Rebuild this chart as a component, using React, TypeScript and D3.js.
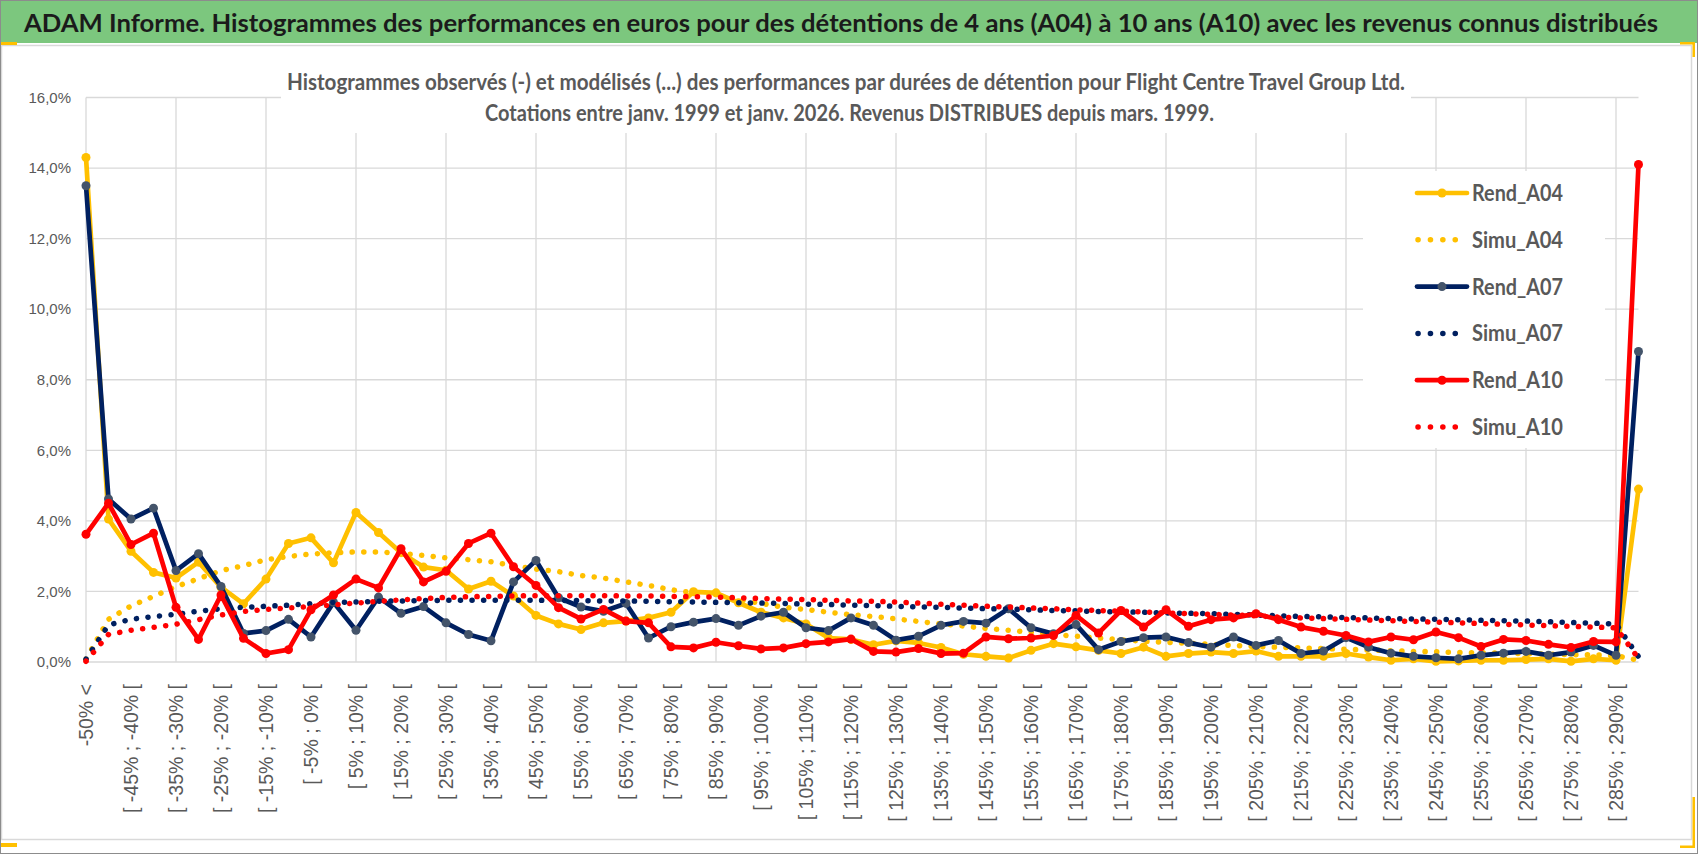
import { useEffect, useRef } from "react";
import * as d3 from "d3";

const W = 1698;
const H = 854;

// categories (every other one is labelled on the axis)
const categories = [
  "-50% <",
  "[ -50% ; -45% [", "[ -45% ; -40% [", "[ -40% ; -35% [", "[ -35% ; -30% [",
  "[ -30% ; -25% [", "[ -25% ; -20% [", "[ -20% ; -15% [", "[ -15% ; -10% [",
  "[ -10% ; -5% [", "[ -5% ; 0% [", "[ 0% ; 5% [", "[ 5% ; 10% [",
  "[ 10% ; 15% [", "[ 15% ; 20% [", "[ 20% ; 25% [", "[ 25% ; 30% [",
  "[ 30% ; 35% [", "[ 35% ; 40% [", "[ 40% ; 45% [", "[ 45% ; 50% [",
  "[ 50% ; 55% [", "[ 55% ; 60% [", "[ 60% ; 65% [", "[ 65% ; 70% [",
  "[ 70% ; 75% [", "[ 75% ; 80% [", "[ 80% ; 85% [", "[ 85% ; 90% [",
  "[ 90% ; 95% [", "[ 95% ; 100% [", "[ 100% ; 105% [", "[ 105% ; 110% [",
  "[ 110% ; 115% [", "[ 115% ; 120% [", "[ 120% ; 125% [", "[ 125% ; 130% [",
  "[ 130% ; 135% [", "[ 135% ; 140% [", "[ 140% ; 145% [", "[ 145% ; 150% [",
  "[ 150% ; 155% [", "[ 155% ; 160% [", "[ 160% ; 165% [", "[ 165% ; 170% [",
  "[ 170% ; 175% [", "[ 175% ; 180% [", "[ 180% ; 185% [", "[ 185% ; 190% [",
  "[ 190% ; 195% [", "[ 195% ; 200% [", "[ 200% ; 205% [", "[ 205% ; 210% [",
  "[ 210% ; 215% [", "[ 215% ; 220% [", "[ 220% ; 225% [", "[ 225% ; 230% [",
  "[ 230% ; 235% [", "[ 235% ; 240% [", "[ 240% ; 245% [", "[ 245% ; 250% [",
  "[ 250% ; 255% [", "[ 255% ; 260% [", "[ 260% ; 265% [", "[ 265% ; 270% [",
  "[ 270% ; 275% [", "[ 275% ; 280% [", "[ 280% ; 285% [", "[ 285% ; 290% [",
  "290% >",
];

// values in %
const rendA04 = [
  14.3, 4.05, 3.14, 2.54, 2.38, 2.83, 2.12, 1.65, 2.35, 3.36,
  3.52, 2.81, 4.24, 3.67, 3.1, 2.69, 2.6, 2.07, 2.29, 1.87,
  1.32, 1.08, 0.92, 1.11, 1.16, 1.25, 1.41, 1.99, 1.96, 1.68,
  1.41, 1.25, 1.08, 0.68, 0.64, 0.49, 0.6, 0.54, 0.41, 0.22,
  0.16, 0.11, 0.33, 0.52, 0.43, 0.33, 0.24, 0.42, 0.16, 0.24,
  0.28, 0.24, 0.31, 0.16, 0.16, 0.16, 0.24, 0.14, 0.05, 0.09,
  0.02, 0.03, 0.05, 0.05, 0.07, 0.09, 0.02, 0.09, 0.05, 4.9,
];
const simuA04 = [
  0.08, 1.21, 1.59, 1.86, 2.14, 2.36, 2.59, 2.73, 2.9, 2.99,
  3.06, 3.1, 3.12, 3.12, 3.08, 3.02, 2.95, 2.9, 2.84, 2.73,
  2.63, 2.56, 2.45, 2.38, 2.27, 2.17, 2.05, 1.96, 1.89, 1.77,
  1.66, 1.55, 1.49, 1.41, 1.34, 1.29, 1.22, 1.15, 1.08, 1.02,
  0.95, 0.9, 0.84, 0.78, 0.73, 0.68, 0.63, 0.59, 0.56, 0.53,
  0.5, 0.47, 0.44, 0.42, 0.4, 0.38, 0.36, 0.34, 0.32, 0.3,
  0.29, 0.27, 0.26, 0.25, 0.24, 0.22, 0.21, 0.2, 0.18, 0.05,
];
const rendA07 = [
  13.5, 4.62, 4.05, 4.36, 2.59, 3.07, 2.14, 0.81, 0.89, 1.21,
  0.71, 1.69, 0.9, 1.84, 1.38, 1.57, 1.11, 0.78, 0.6, 2.27,
  2.88, 1.82, 1.56, 1.44, 1.66, 0.68, 1.0, 1.13, 1.23, 1.04,
  1.3, 1.41, 0.97, 0.89, 1.25, 1.04, 0.62, 0.73, 1.04, 1.15,
  1.1, 1.51, 0.97, 0.8, 1.06, 0.35, 0.58, 0.69, 0.71, 0.55,
  0.42, 0.71, 0.47, 0.61, 0.24, 0.31, 0.69, 0.42, 0.25, 0.16,
  0.12, 0.09, 0.19, 0.25, 0.3, 0.19, 0.28, 0.47, 0.19, 8.8,
];
const simuA07 = [
  0.08, 1.05, 1.21, 1.29, 1.35, 1.44, 1.51, 1.55, 1.58, 1.61,
  1.65, 1.69, 1.7, 1.72, 1.73, 1.74, 1.75, 1.75, 1.75, 1.75,
  1.75, 1.74, 1.74, 1.73, 1.73, 1.72, 1.71, 1.7, 1.69, 1.68,
  1.67, 1.66, 1.64, 1.63, 1.61, 1.6, 1.58, 1.56, 1.55, 1.53,
  1.51, 1.5, 1.48, 1.46, 1.45, 1.43, 1.42, 1.41, 1.39, 1.38,
  1.37, 1.35, 1.33, 1.31, 1.29, 1.28, 1.26, 1.25, 1.23, 1.22,
  1.21, 1.2, 1.18, 1.17, 1.16, 1.14, 1.12, 1.1, 1.08, 0.15,
];
const rendA10 = [
  3.62, 4.5, 3.33, 3.65, 1.55, 0.64, 1.9, 0.67, 0.24, 0.35,
  1.48, 1.9, 2.35, 2.1, 3.21, 2.27, 2.57, 3.36, 3.65, 2.7,
  2.17, 1.54, 1.22, 1.49, 1.16, 1.11, 0.43, 0.4, 0.56, 0.46,
  0.37, 0.4, 0.52, 0.57, 0.65, 0.3, 0.28, 0.38, 0.24, 0.25,
  0.71, 0.66, 0.68, 0.75, 1.32, 0.82, 1.46, 0.99, 1.48, 1.01,
  1.2, 1.25, 1.37, 1.2, 0.99, 0.87, 0.75, 0.57, 0.71, 0.63,
  0.85, 0.69, 0.44, 0.64, 0.61, 0.5, 0.41, 0.58, 0.57, 14.1,
];
const simuA10 = [
  0.02, 0.78, 0.9, 0.98, 1.07, 1.2, 1.33, 1.43, 1.49, 1.53,
  1.57, 1.62, 1.67, 1.72, 1.76, 1.8, 1.83, 1.85, 1.86, 1.87,
  1.88, 1.88, 1.88, 1.88, 1.87, 1.87, 1.86, 1.85, 1.84, 1.82,
  1.8, 1.78, 1.77, 1.75, 1.73, 1.72, 1.7, 1.67, 1.64, 1.61,
  1.58, 1.56, 1.53, 1.51, 1.48, 1.46, 1.44, 1.42, 1.39, 1.37,
  1.35, 1.33, 1.31, 1.27, 1.25, 1.23, 1.21, 1.19, 1.17, 1.15,
  1.13, 1.11, 1.09, 1.07, 1.05, 1.03, 1.01, 0.99, 0.97, 0.1,
];

const yTicks = [0, 2, 4, 6, 8, 10, 12, 14, 16];

const title =
  "ADAM Informe. Histogrammes des performances en euros pour des détentions de 4 ans (A04) à 10 ans (A10) avec les revenus connus distribués";
const subtitle1 =
  "Histogrammes observés (-) et modélisés (...)  des performances par durées de détention pour Flight Centre Travel Group Ltd.";
const subtitle2 =
  "Cotations entre janv. 1999 et janv. 2026. Revenus DISTRIBUES depuis mars. 1999.";

interface Series {
  name: string;
  values: number[];
  color: string;
  marker: string | null;
}

const series: Series[] = [
  { name: "Rend_A04", values: rendA04, color: "#FFC000", marker: "#FFC000" },
  { name: "Simu_A04", values: simuA04, color: "#FFC000", marker: null },
  { name: "Rend_A07", values: rendA07, color: "#002060", marker: "#44546A" },
  { name: "Simu_A07", values: simuA07, color: "#002060", marker: null },
  { name: "Rend_A10", values: rendA10, color: "#FF0000", marker: "#FF0000" },
  { name: "Simu_A10", values: simuA10, color: "#FF0000", marker: null },
];

const HEAD_FONT = "Lato, 'Open Sans', 'Noto Sans', sans-serif";
const TICK_FONT = "'Liberation Sans', Arial, sans-serif";
const GRID = "#d9d9d9";
const TEXT = "#595959";

export default function App() {
  const svgRef = useRef<SVGSVGElement>(null);

  useEffect(() => {
    if (!svgRef.current) return;
    document.body.style.margin = "0";

    const svg = d3.select(svgRef.current);
    svg.selectAll("*").remove();

    const x = d3.scalePoint<string>().domain(categories).range([86, 1638.5]);
    const y = d3.scaleLinear().domain([0, 16]).range([662, 97.5]);

    // frame
    svg.append("rect").attr("width", W).attr("height", H).attr("fill", "#fff");
    svg
      .append("rect")
      .attr("x", 1.5).attr("y", 45.5).attr("width", 1690).attr("height", 794)
      .attr("fill", "#fff").attr("stroke", GRID).attr("stroke-width", 1.5);
    svg.append("rect").attr("width", W).attr("height", 43).attr("fill", "#7CC77E");
    svg
      .append("rect")
      .attr("x", 0.5).attr("y", 0.5).attr("width", W - 1).attr("height", H - 1)
      .attr("fill", "none").attr("stroke", "#8c8c8c");

    // yellow corner accents
    const accent = svg.append("g").attr("fill", "#FFC000");
    accent.append("rect").attr("x", 1).attr("y", 42).attr("width", 16).attr("height", 3);
    accent.append("rect").attr("x", 1).attr("y", 843).attr("width", 16).attr("height", 4);
    accent.append("rect").attr("x", 1680).attr("y", 42).attr("width", 15).attr("height", 2.5);
    accent.append("rect").attr("x", 1692.5).attr("y", 42).attr("width", 2.5).attr("height", 15);
    accent.append("rect").attr("x", 1692.5).attr("y", 797).attr("width", 2.5).attr("height", 51);
    accent.append("rect").attr("x", 1680).attr("y", 845.5).attr("width", 15).attr("height", 2.5);

    // title
    svg
      .append("text")
      .attr("x", 24).attr("y", 32)
      .attr("font-family", HEAD_FONT).attr("font-size", 25).attr("font-weight", 700)
      .attr("fill", "#1b1b1b")
      .attr("textLength", 1634).attr("lengthAdjust", "spacingAndGlyphs")
      .text(title);

    // grid
    const grid = svg.append("g").attr("stroke", GRID).attr("stroke-width", 1.3);
    grid
      .selectAll("line.h")
      .data(yTicks)
      .join("line")
      .attr("class", "h")
      .attr("x1", 86).attr("x2", 1638.5)
      .attr("y1", (d) => y(d)).attr("y2", (d) => y(d));
    grid
      .selectAll("line.v")
      .data(categories.filter((_, i) => i % 4 === 0))
      .join("line")
      .attr("class", "v")
      .attr("x1", (d) => x(d)!).attr("x2", (d) => x(d)!)
      .attr("y1", y(16)).attr("y2", y(0));

    // y tick labels
    svg
      .append("g")
      .selectAll("text")
      .data(yTicks)
      .join("text")
      .attr("x", 71)
      .attr("y", (d) => y(d))
      .attr("dy", "0.35em")
      .attr("text-anchor", "end")
      .attr("font-family", TICK_FONT).attr("font-size", 15).attr("fill", TEXT)
      .text((d) => d.toFixed(1).replace(".", ",") + "%");

    // x tick labels (rotated, every other category)
    svg
      .append("g")
      .selectAll("text")
      .data(categories.filter((_, i) => i % 2 === 0))
      .join("text")
      .attr("transform", (d) => `translate(${x(d)},684) rotate(-90)`)
      .attr("dy", "0.36em")
      .attr("text-anchor", "end")
      .attr("font-family", TICK_FONT).attr("font-size", 19.5).attr("fill", TEXT)
      .text((d) => d);

    // subtitle box
    svg.append("rect").attr("x", 281).attr("y", 58).attr("width", 1130).attr("height", 75).attr("fill", "#fff");
    const sub = svg
      .append("g")
      .attr("font-family", HEAD_FONT).attr("font-size", 22.5).attr("font-weight", 700)
      .attr("fill", TEXT);
    sub.append("text").attr("x", 287).attr("y", 90)
      .attr("textLength", 1118).attr("lengthAdjust", "spacingAndGlyphs").text(subtitle1);
    sub.append("text").attr("x", 485).attr("y", 121)
      .attr("textLength", 729).attr("lengthAdjust", "spacingAndGlyphs").text(subtitle2);

    // series
    const line = d3
      .line<number>()
      .x((_, i) => x(categories[i])!)
      .y((d) => y(d));

    const plot = svg.append("g");
    for (const s of series) {
      const g = plot.append("g");
      if (s.marker) {
        g.append("path")
          .attr("d", line(s.values))
          .attr("fill", "none")
          .attr("stroke", s.color)
          .attr("stroke-width", 4.7)
          .attr("stroke-linejoin", "round");
        g.selectAll("circle")
          .data(s.values)
          .join("circle")
          .attr("cx", (_, i) => x(categories[i])!)
          .attr("cy", (d) => y(d))
          .attr("r", 4.5)
          .attr("fill", s.marker);
      } else {
        g.append("path")
          .attr("d", line(s.values))
          .attr("fill", "none")
          .attr("stroke", s.color)
          .attr("stroke-width", 5.5)
          .attr("stroke-linecap", "round")
          .attr("stroke-dasharray", "0.1 11.5");
      }
    }

    // legend
    svg.append("rect").attr("x", 1363).attr("y", 171).attr("width", 242).attr("height", 277).attr("fill", "#fff");
    const legend = svg.append("g");
    series.forEach((s, i) => {
      const ly = 193 + i * 46.8;
      const item = legend.append("g");
      if (s.marker) {
        item.append("line")
          .attr("x1", 1417).attr("x2", 1467).attr("y1", ly).attr("y2", ly)
          .attr("stroke", s.color).attr("stroke-width", 4.7).attr("stroke-linecap", "round");
        item.append("circle").attr("cx", 1442).attr("cy", ly).attr("r", 4.5).attr("fill", s.marker);
      } else {
        item.append("line")
          .attr("x1", 1418).attr("x2", 1462).attr("y1", ly).attr("y2", ly)
          .attr("stroke", s.color).attr("stroke-width", 5.5)
          .attr("stroke-linecap", "round").attr("stroke-dasharray", "0.1 12.3");
      }
      item.append("text")
        .attr("x", 1472).attr("y", ly).attr("dy", "0.36em")
        .attr("font-family", HEAD_FONT).attr("font-size", 22).attr("font-weight", 700)
        .attr("fill", TEXT)
        .attr("textLength", 91).attr("lengthAdjust", "spacingAndGlyphs")
        .text(s.name);
    });

    return () => {
      svg.selectAll("*").remove();
    };
  }, []);

  return <svg ref={svgRef} width={W} height={H} style={{ display: "block" }} />;
}
